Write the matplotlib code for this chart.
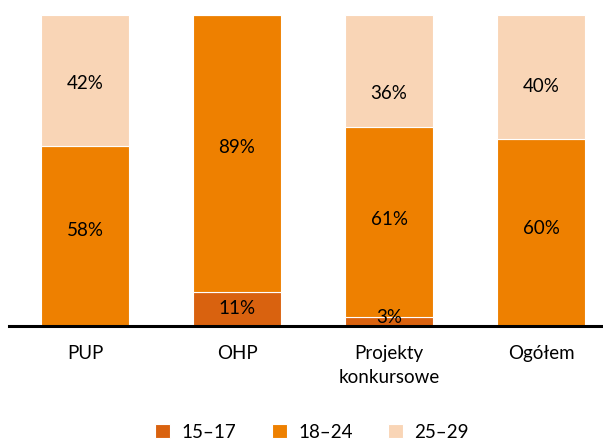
import numpy as np
import matplotlib.pyplot as plt

plt.rcParams["font.family"] = ["Lato", "DejaVu Sans"]

categories = ["PUP", "OHP", "Projekty\nkonkursowe", "Ogółem"]
age_groups = ["15–17", "18–24", "25–29"]
share_15_17 = [0, 11, 3, 0]
share_18_24 = [58, 89, 61, 60]
share_25_29 = [42, 0, 36, 40]
colors = ["#D9620F", "#EE8000", "#F9D5B6"]

series = [share_15_17, share_18_24, share_25_29]
# labels in the original were dragged a bit off-centre (points, negative = down)
nudges = [[0, 0, 3, 0], [4, 4, 2, 3], [-2, 0, -16, -7]]

FS = 13.5

fig = plt.figure(figsize=(6.03, 4.41), dpi=100)
ax = fig.add_axes([9 / 603, 115 / 441, 608 / 603, 311 / 441])

x = np.arange(len(categories))
bottom = np.zeros(len(categories))
for name, vals, col, nud in zip(age_groups, series, colors, nudges):
    vals = np.array(vals, dtype=float)
    ax.bar(x, vals, width=0.585, bottom=bottom, color=col, edgecolor="white",
           linewidth=0.8, label=name)
    for xi, b, v, dy in zip(x, bottom, vals, nud):
        if v > 0:
            ax.annotate(f"{int(v)}%", (xi, b + v / 2), xytext=(0, dy),
                        textcoords="offset points", ha="center", va="center",
                        fontsize=FS, color="black")
    bottom += vals

ax.set_xlim(-0.5, 3.5)
ax.set_ylim(0, 100)
ax.set_yticks([])
ax.set_xticks(x)
ax.set_xticklabels(categories, fontsize=FS, linespacing=1.5)
ax.tick_params(axis="x", length=0, pad=14)
for side in ["top", "right", "left"]:
    ax.spines[side].set_visible(False)
ax.spines["bottom"].set_linewidth(2.2)
ax.spines["bottom"].set_color("black")

handles, labels = ax.get_legend_handles_labels()
fig.legend(handles, labels, loc="center", bbox_to_anchor=(312 / 603, 1 - 432 / 441),
           ncol=3, frameon=False, fontsize=FS, handlelength=0.8, handleheight=0.8,
           columnspacing=1.9, handletextpad=0.6)

fig.savefig("out.png", dpi=100)
